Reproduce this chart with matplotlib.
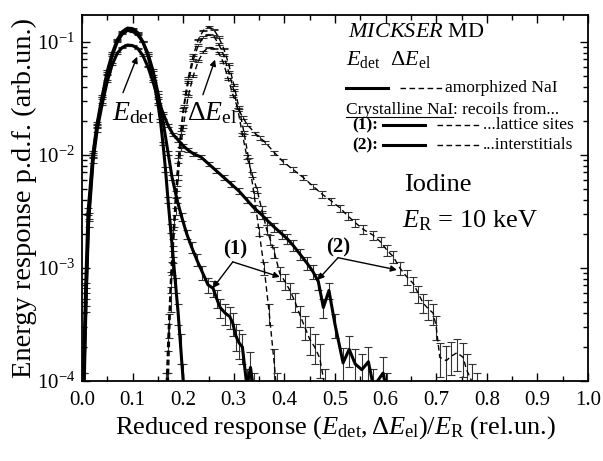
import numpy as np
import matplotlib
matplotlib.use('Agg')
import matplotlib.pyplot as plt

plt.rcParams['font.family'] = 'serif'
plt.rcParams['font.serif'] = ['Liberation Serif', 'DejaVu Serif']
plt.rcParams['mathtext.fontset'] = 'custom'
plt.rcParams['mathtext.rm'] = 'Liberation Serif'
plt.rcParams['mathtext.it'] = 'Liberation Serif:italic'
plt.rcParams['mathtext.bf'] = 'Liberation Serif:bold'

# ---- E_det (solid) ----
x_det_am = [0.002, 0.007, 0.012, 0.022, 0.03, 0.04, 0.05, 0.06, 0.07, 0.08, 0.09, 0.1,
            0.11, 0.12, 0.13, 0.14, 0.15, 0.155, 0.16, 0.165, 0.17, 0.175, 0.18, 0.185,
            0.19, 0.195, 0.2, 0.203]
lg_det_am = [-4.1, -3.2, -2.5, -1.98, -1.72, -1.48, -1.26, -1.1, -0.98, -0.91, -0.88, -0.885,
             -0.92, -1.0, -1.12, -1.3, -1.55, -1.7, -1.9, -2.13, -2.4, -2.65, -2.9, -3.15,
             -3.4, -3.7, -4.0, -4.2]

x_det_1 = [0.003, 0.008, 0.013, 0.022, 0.03, 0.04, 0.05, 0.06, 0.07, 0.08, 0.09, 0.1,
           0.11, 0.12, 0.13, 0.14, 0.15, 0.16, 0.17, 0.178, 0.188, 0.197, 0.207, 0.217,
           0.227, 0.238, 0.249, 0.259, 0.266, 0.273, 0.283, 0.292, 0.298, 0.304, 0.31,
           0.317, 0.326, 0.333, 0.34]
lg_det_1 = [-4.1, -3.25, -2.55, -2.0, -1.74, -1.5, -1.29, -1.12, -1.0, -0.93, -0.9, -0.91,
            -0.94, -1.0, -1.1, -1.25, -1.45, -1.7, -1.98, -2.2, -2.4, -2.55, -2.7, -2.82,
            -2.93, -3.04, -3.15, -3.18, -3.27, -3.35, -3.4, -3.43, -3.49, -3.6, -3.66,
            -3.7, -4.05, -3.88, -4.1]

x_det_2 = [0.004, 0.008, 0.013, 0.022, 0.03, 0.04, 0.05, 0.06, 0.07, 0.08, 0.09, 0.1,
           0.11, 0.12, 0.13, 0.14, 0.15, 0.16, 0.17, 0.18, 0.19, 0.2, 0.21, 0.22, 0.235,
           0.25, 0.265, 0.28, 0.295, 0.31, 0.326, 0.34, 0.355, 0.366, 0.38, 0.395, 0.405,
           0.417, 0.431, 0.445, 0.456, 0.467, 0.477, 0.488, 0.5, 0.516, 0.528, 0.54, 0.553,
           0.566, 0.576, 0.595, 0.603]
lg_det_2 = [-4.1, -3.3, -2.6, -2.05, -1.78, -1.55, -1.35, -1.2, -1.1, -1.05, -1.03, -1.035,
            -1.06, -1.12, -1.22, -1.35, -1.5, -1.63, -1.74, -1.82, -1.87, -1.92, -1.96, -1.99,
            -2.02, -2.08, -2.14, -2.2, -2.26, -2.32, -2.4, -2.47, -2.53, -2.58, -2.64, -2.7,
            -2.74, -2.8, -2.88, -2.96, -3.03, -3.12, -3.35, -3.2, -3.5, -3.84, -3.72, -3.85,
            -3.9, -3.83, -4.05, -3.93, -4.1]

# ---- Delta E_el (dashed) ----
x_el_am = [0.166, 0.17, 0.175, 0.18, 0.185, 0.19, 0.195, 0.2, 0.205, 0.21, 0.22, 0.23, 0.24,
           0.25, 0.26, 0.27, 0.28, 0.29, 0.3, 0.31, 0.32, 0.33, 0.34, 0.35, 0.36, 0.37, 0.38,
           0.385]
lg_el_am = [-4.1, -3.6, -3.1, -2.7, -2.35, -2.05, -1.8, -1.6, -1.45, -1.32, -1.12, -0.98,
            -0.9, -0.87, -0.89, -0.96, -1.06, -1.2, -1.38, -1.58, -1.8, -2.05, -2.35, -2.68,
            -3.0, -3.4, -3.85, -4.1]

x_el_1 = [0.168, 0.172, 0.177, 0.182, 0.187, 0.192, 0.197, 0.202, 0.21, 0.22, 0.23, 0.24,
          0.25, 0.26, 0.27, 0.28, 0.29, 0.3, 0.308, 0.317, 0.326, 0.336, 0.346, 0.355, 0.365,
          0.372, 0.38, 0.391, 0.401, 0.411, 0.421, 0.431, 0.44, 0.45, 0.46, 0.47, 0.48]
lg_el_1 = [-4.1, -3.5, -3.0, -2.6, -2.25, -1.98, -1.75, -1.57, -1.36, -1.16, -1.03, -0.96,
           -0.94, -0.95, -1.02, -1.12, -1.27, -1.43, -1.6, -1.82, -2.02, -2.17, -2.31, -2.48,
           -2.66, -2.75, -2.86, -3.05, -3.12, -3.2, -3.3, -3.42, -3.52, -3.63, -3.7, -3.8,
           -4.05]

x_el_2 = [0.17, 0.175, 0.18, 0.185, 0.19, 0.195, 0.2, 0.21, 0.22, 0.23, 0.24, 0.25, 0.26,
          0.27, 0.279, 0.289, 0.299, 0.309, 0.318, 0.326, 0.342, 0.352, 0.362, 0.38, 0.397,
          0.417, 0.437, 0.457, 0.475, 0.493, 0.51, 0.525, 0.54, 0.556, 0.575, 0.59, 0.602,
          0.615, 0.628, 0.642, 0.655, 0.665, 0.674, 0.684, 0.694, 0.7, 0.707, 0.72, 0.73,
          0.741, 0.753, 0.76, 0.77, 0.78]
lg_el_2 = [-4.1, -3.3, -2.85, -2.5, -2.2, -1.95, -1.75, -1.48, -1.3, -1.17, -1.09, -1.05,
           -1.06, -1.1, -1.18, -1.33, -1.48, -1.6, -1.67, -1.73, -1.81, -1.85, -1.89, -1.98,
           -2.06, -2.13, -2.2, -2.28, -2.35, -2.41, -2.47, -2.54, -2.6, -2.66, -2.71, -2.77,
           -2.84, -2.9, -3.0, -3.08, -3.14, -3.23, -3.31, -3.36, -3.4, -3.52, -3.79, -3.82,
           -3.78, -3.75, -3.79, -3.9, -4.0, -4.1]

xticks = [0.0, 0.1, 0.2, 0.3, 0.4, 0.5, 0.6, 0.7, 0.8, 0.9, 1.0]

# statistical (Poisson-like) error scale of the MD histograms
err_k = 0.0042

fig = plt.figure(figsize=(6.03, 4.61), dpi=100)
ax = fig.add_axes([82 / 603, 80 / 461, 506 / 603, 366 / 461])


def draw(x, lg, solid):
    x = np.array(x)
    y = 10.0 ** np.array(lg)
    rel = np.minimum(err_k / np.sqrt(y), 0.6)
    ax.errorbar(x, y, yerr=y * rel, fmt='none', ecolor='#333333', elinewidth=0.8,
                capsize=2.6, capthick=0.8, zorder=2)
    if solid:
        ax.plot(x, y, color='black', lw=2.2, zorder=3)
    else:
        ax.plot(x, y, color='black', lw=1.0, dashes=(4, 2.5), zorder=3)


draw(x_det_am, lg_det_am, True)
draw(x_det_1, lg_det_1, True)
draw(x_det_2, lg_det_2, True)
draw(x_el_am, lg_el_am, False)
draw(x_el_1, lg_el_1, False)
draw(x_el_2, lg_el_2, False)

ax.set_yscale('log')
ax.set_xlim(0, 1)
ax.set_ylim(1e-4, 0.172)
ax.set_xticks(xticks)
ax.set_xticklabels(['%.1f' % t for t in xticks])
ax.set_xticks(np.arange(0.05, 1.0, 0.1), minor=True)
ax.tick_params(which='both', direction='in', top=True, right=True, labelsize=15, width=1)
ax.tick_params(which='major', length=6)
ax.tick_params(which='minor', length=3.5)
ax.tick_params(axis='x', pad=7)
ax.tick_params(axis='y', pad=5)
for s in ax.spines.values():
    s.set_linewidth(1.3)

ax.set_xlabel(r'Reduced response $(E_{\rm det},\Delta E_{\rm el})/E_{\rm R}$ (rel.un.)',
              fontsize=19, labelpad=3)
ax.set_ylabel('Energy response p.d.f. (arb.un.)', fontsize=20.5, labelpad=0)

# curve labels and arrows
arr = dict(arrowstyle='-|>', color='black', lw=1.0, mutation_scale=9, shrinkA=0, shrinkB=0)
ax.text(0.059, 10 ** -1.69, r'$E_{\rm det}$', fontsize=20, va='baseline')
ax.annotate('', xy=(0.109, 10 ** -1.133), xytext=(0.081, 10 ** -1.451), arrowprops=arr)
ax.text(0.2075, 10 ** -1.69, r'$\Delta E_{\rm el}$', fontsize=20, va='baseline')
ax.annotate('', xy=(0.263, 10 ** -1.159), xytext=(0.239, 10 ** -1.469), arrowprops=arr)

ax.text(0.302, 10 ** -2.84, '(1)', fontsize=15, fontweight='bold', ha='center', va='center')
ax.annotate('', xy=(0.259, 10 ** -3.177), xytext=(0.298, 10 ** -2.947), arrowprops=arr)
ax.annotate('', xy=(0.391, 10 ** -3.08), xytext=(0.298, 10 ** -2.947), arrowprops=arr)
ax.text(0.506, 10 ** -2.823, '(2)', fontsize=15, fontweight='bold', ha='center', va='center')
ax.annotate('', xy=(0.466, 10 ** -3.106), xytext=(0.506, 10 ** -2.91), arrowprops=arr)
ax.annotate('', xy=(0.6225, 10 ** -3.018), xytext=(0.506, 10 ** -2.91), arrowprops=arr)

# legend block (drawn by hand)
T = ax.transAxes
ax.text(0.526, 0.94, r'$\mathit{MICKSER}$ MD', transform=T, fontsize=16, va='baseline')
ax.text(0.522, 0.863, r'$E_{\rm det}$  $\Delta E_{\rm el}$', transform=T, fontsize=16,
        va='baseline')
ax.plot([0.522, 0.605], [0.8005, 0.8005], transform=T, color='black', lw=2.2)
ax.plot([0.628, 0.713], [0.8005, 0.8005], transform=T, color='black', lw=1.0, dashes=(4, 2.5))
ax.text(0.717, 0.8005, 'amorphized NaI', transform=T, fontsize=12.5, va='center')
t1 = ax.text(0.522, 0.74, 'Crystalline NaI', transform=T, fontsize=12.5, va='center')
ax.text(0.534, 0.699, '(1):', transform=T, fontsize=12.5, fontweight='bold', va='center')
ax.plot([0.595, 0.678], [0.699, 0.699], transform=T, color='black', lw=2.2)
ax.plot([0.702, 0.790], [0.699, 0.699], transform=T, color='black', lw=1.0, dashes=(4, 2.5))
ax.text(0.792, 0.699, '...lattice sites', transform=T, fontsize=12.5, va='center')
ax.text(0.534, 0.645, '(2):', transform=T, fontsize=12.5, fontweight='bold', va='center')
ax.plot([0.595, 0.678], [0.645, 0.645], transform=T, color='black', lw=2.2)
ax.plot([0.702, 0.790], [0.645, 0.645], transform=T, color='black', lw=1.0, dashes=(4, 2.5))
ax.text(0.792, 0.645, '...interstitials', transform=T, fontsize=12.5, va='center')
ax.text(0.636, 0.5355, 'Iodine', transform=T, fontsize=19, va='center')
ax.text(0.632, 0.421, r'$E_{\rm R}$ = 10 keV', transform=T, fontsize=19, va='baseline')

fig.canvas.draw()
bb = t1.get_window_extent().transformed(T.inverted())
ax.plot([bb.x0, bb.x1], [bb.y0 + 0.002, bb.y0 + 0.002], transform=T, color='black', lw=0.8)
ax.text(bb.x1, 0.74, ': recoils from...', transform=T, fontsize=12.5, va='center')

fig.savefig('out.png', dpi=100)
